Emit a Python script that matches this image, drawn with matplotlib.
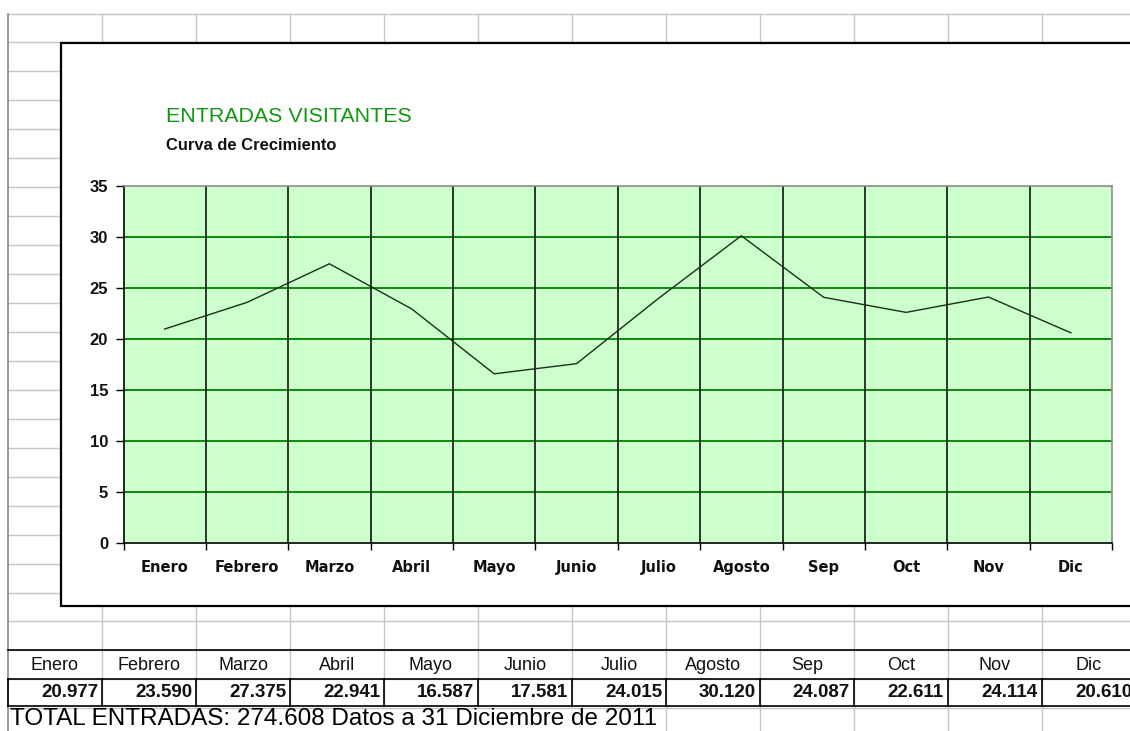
import matplotlib
matplotlib.use("Agg")
import matplotlib.pyplot as plt
from matplotlib.patches import Rectangle
from matplotlib.lines import Line2D

# ---- data ----
months = ["Enero", "Febrero", "Marzo", "Abril", "Mayo", "Junio",
          "Julio", "Agosto", "Sep", "Oct", "Nov", "Dic"]
visitors = [20977, 23590, 27375, 22941, 16587, 17581,
            24015, 30120, 24087, 22611, 24114, 20610]
y_ticks = [0, 5, 10, 15, 20, 25, 30, 35]
title = "ENTRADAS VISITANTES"
subtitle = "Curva de Crecimiento"
footer_date = "Datos a 31 Diciembre de 2011"

def es_num(v):
    return f"{v:,}".replace(",", ".")

W, H = 1130, 731
fig = plt.figure(figsize=(W / 100, H / 100), dpi=100)
fig.patch.set_facecolor("white")

# background "spreadsheet" axes in pixel coordinates
bg = fig.add_axes([0, 0, 1, 1])
bg.set_xlim(0, W)
bg.set_ylim(H, 0)
bg.axis("off")

grid_c = "#c6c6c6"
col_x = [8 + 94 * k for k in range(13)]
row_y = [13.5 + 28.95 * k for k in range(25)]

# horizontal grid lines
for y in row_y:
    if y > 720:
        break
    bg.add_line(Line2D([8, W], [y, y], color=grid_c, lw=1.0, zorder=1))
# vertical grid lines (down to total row)
for x in col_x[1:]:
    bg.add_line(Line2D([x, x], [13.5, 706], color=grid_c, lw=1.0, zorder=1))
for x in col_x[7:]:
    bg.add_line(Line2D([x, x], [706, H], color=grid_c, lw=1.0, zorder=1))
# left sheet border
bg.add_line(Line2D([8, 8], [13.5, H], color="#8a8a78", lw=1.2, zorder=2))

# table rows
y_hdr_top, y_val_top, y_val_bot = 650, 678.5, 706
for y in (y_hdr_top, y_val_top, y_val_bot):
    bg.add_line(Line2D([8, W], [y, y], color="black", lw=1.2, zorder=3))
for x in col_x[:13]:
    bg.add_line(Line2D([x, x], [y_val_top, y_val_bot], color="black", lw=1.2, zorder=3))

for i, (m, v) in enumerate(zip(months, visitors)):
    x0, x1 = col_x[i], col_x[i] + 94
    bg.text((x0 + x1) / 2, 665, m, ha="center", va="center",
            fontsize=13, family="Liberation Sans", color="#111111", zorder=4)
    bg.text(x1 - 4, 692.5, es_num(v), ha="right", va="center",
            fontsize=13.5, family="Liberation Sans", fontweight="bold",
            color="#111111", zorder=4)

total = sum(visitors)
bg.text(10, 719, f"TOTAL ENTRADAS: {es_num(total)} {footer_date}",
        ha="left", va="center", fontsize=17.5, family="Liberation Sans",
        color="black", zorder=4)

# chart frame
bg.add_patch(Rectangle((60.5, 42.5), W, 563, facecolor="white",
                       edgecolor="black", lw=1.6, zorder=5))

# titles
fig.text(166 / W, 1 - 117 / H, title, ha="left", va="center",
         fontsize=15.4, family="Liberation Sans", color="#139613")
fig.text(166 / W, 1 - 146 / H, subtitle, ha="left", va="center",
         fontsize=11.9, family="Liberation Sans", fontweight="bold",
         color="#111111")

# chart axes
left, right, top, bottom = 123.5, 1112, 186, 543
ax = fig.add_axes([left / W, 1 - bottom / H, (right - left) / W, (bottom - top) / H])
ax.set_zorder(10)
ax.set_facecolor("#ccffcc")
n = len(months)
xs = [i + 0.5 for i in range(n)]
ax.set_xlim(0, n)
ax.set_ylim(0, 35)

for y in y_ticks[1:-1]:
    ax.axhline(y, color="#008000", lw=1.3, zorder=1)
for k in range(1, n):
    ax.axvline(k, color="black", lw=1.1, zorder=1)

ax.plot(xs, [v / 1000 for v in visitors], color="#1a2e1a", lw=1.0, zorder=3)

ax.set_yticks(y_ticks)
ax.set_yticklabels([str(t) for t in y_ticks], fontsize=12,
                   family="Liberation Sans", fontweight="bold", color="#111111")
ax.tick_params(axis="y", direction="out", length=6, width=1, pad=5, color="black")

ax.set_xticks(range(n + 1))
ax.set_xticklabels([])
ax.tick_params(axis="x", which="major", direction="out", length=5, width=1, color="black")
ax.set_xticks(xs, minor=True)
ax.set_xticklabels(months, minor=True, fontsize=10.5, family="DejaVu Sans",
                   fontweight="bold", color="#111111")
ax.tick_params(axis="x", which="minor", length=0, pad=12)

for s in ("left", "bottom"):
    ax.spines[s].set_color("black")
    ax.spines[s].set_linewidth(1.2)
for s in ("top", "right"):
    ax.spines[s].set_color("#8c8c8c")
    ax.spines[s].set_linewidth(1.2)

fig.savefig("out.png", dpi=100, facecolor="white")
